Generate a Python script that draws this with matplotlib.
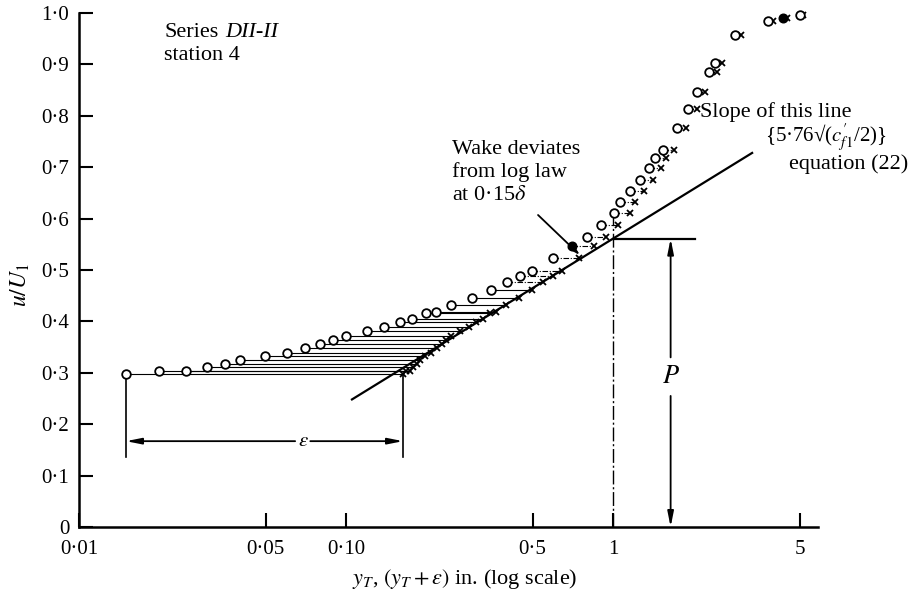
import numpy as np
import matplotlib
matplotlib.use("Agg")
import matplotlib.pyplot as plt
from matplotlib.ticker import NullLocator

plt.rcParams['font.family'] = ['Liberation Serif', 'DejaVu Serif']
plt.rcParams['mathtext.fontset'] = 'stix'

# ---- data ---------------------------------------------------------------
# measured distance from wall y_T (in.) and velocity ratio u/U1
y_T = [0.0150, 0.0200, 0.0252, 0.0302, 0.0353, 0.0401, 0.0499, 0.0601,
       0.0702, 0.0797, 0.0894, 0.0997, 0.1196, 0.1392, 0.1593, 0.1773,
       0.1989, 0.2174, 0.2474, 0.2965, 0.348, 0.400, 0.4485, 0.496,
       0.598, 0.700, 0.797, 0.899, 1.009, 1.062, 1.158, 1.262,
       1.368, 1.436, 1.543, 1.732, 1.915, 2.058, 2.295, 2.41,
       2.864, 3.816, 4.345, 5.016]
u_ratio = [0.298, 0.304, 0.304, 0.312, 0.317, 0.325, 0.333, 0.339,
           0.348, 0.357, 0.364, 0.372, 0.381, 0.389, 0.398, 0.405,
           0.416, 0.418, 0.431, 0.446, 0.462, 0.477, 0.488, 0.499,
           0.524, 0.547, 0.565, 0.588, 0.610, 0.632, 0.654, 0.675,
           0.698, 0.717, 0.733, 0.776, 0.814, 0.847, 0.886, 0.902,
           0.957, 0.985, 0.991, 0.996]
filled_idx = [25, 42]          # points drawn as solid dots
epsilon = 0.1485               # origin shift (in.)

# log-law line  u/U1 = a + b log10(y)
loglaw_a = 0.561
loglaw_b = 0.320
loglaw_range = [0.1053, 3.32]

x_ticks = [0.01, 0.05, 0.10, 0.5, 1, 5]
x_tick_labels = ['0·01', '0·05', '0·10', '0·5', '1', '5']
y_ticks = [0, 0.1, 0.2, 0.3, 0.4, 0.5, 0.6, 0.7, 0.8, 0.9, 1.0]
y_tick_labels = ['0', '0·1', '0·2', '0·3', '0·4', '0·5', '0·6', '0·7',
                 '0·8', '0·9', '1·0']

P_x = 1.644                    # position of the P dimension

# ---- figure -------------------------------------------------------------
W, H = 918, 594
fig = plt.figure(figsize=(W / 100, H / 100), dpi=100)
ax = fig.add_axes([79 / W, 1 - 527 / H, (818 - 79) / W, (527 - 13) / H])
ax.set_xscale('log')
ax.set_xlim(0.01, 5.86)
ax.set_ylim(0, 1.0)

for s in ('top', 'right'):
    ax.spines[s].set_visible(False)
for s in ('left', 'bottom'):
    ax.spines[s].set_linewidth(1.8)

ax.set_xticks(x_ticks)
ax.set_xticklabels(x_tick_labels)
ax.xaxis.set_minor_locator(NullLocator())
ax.set_yticks(y_ticks)
ax.set_yticklabels(y_tick_labels)
ax.tick_params(direction='in', length=10, width=1.5, labelsize=15)
ax.tick_params(axis='y', pad=7)
ax.tick_params(axis='x', pad=9)

y_T = np.array(y_T)
u_ratio = np.array(u_ratio)
shifted = y_T + epsilon

# horizontal lines joining y_T to y_T + epsilon
for xa, xb, uu in zip(y_T, shifted, u_ratio):
    ls = '-' if uu < 0.47 else (0, (5, 1.5, 1, 1.5))
    ax.plot([xa, xb], [uu, uu], color='black', lw=0.8, ls=ls, zorder=2)

# log-law line
xl = np.array(loglaw_range)
ax.plot(xl, loglaw_a + loglaw_b * np.log10(xl), color='black', lw=1.6, zorder=3)

# crosses at y_T + epsilon
ax.plot(shifted, u_ratio, 'x', color='black', ms=5, mew=1.3, zorder=4,
        clip_on=False)
# open circles at y_T
open_mask = np.ones(len(y_T), bool)
open_mask[filled_idx] = False
ax.plot(y_T[open_mask], u_ratio[open_mask], 'o', mfc='white', mec='black',
        ms=6.2, mew=1.3, zorder=5, clip_on=False)
ax.plot(y_T[filled_idx], u_ratio[filled_idx], 'o', color='black', ms=6.2,
        zorder=5, clip_on=False)

# vertical chain line at y = 1 in. and the reference level
u_at_1 = loglaw_a + loglaw_b * np.log10(1.0)
ax.plot([1, 1], [0, u_ratio[28]], color='black', lw=1.0,
        ls=(0, (10, 2, 1.5, 2)), zorder=2)
ax.plot([1, 2.03], [u_at_1, u_at_1], color='black', lw=1.6, zorder=3)

arrow_kw = dict(arrowstyle='-|>,head_length=0.9,head_width=0.18',
                color='black', lw=1.3, shrinkA=0, shrinkB=0)

# P dimension
ax.text(P_x, 0.292, '$P$', fontsize=19, ha='center', va='center')
ax.annotate('', xy=(P_x, u_at_1), xytext=(P_x, 0.33), arrowprops=arrow_kw)
ax.annotate('', xy=(P_x, 0.0), xytext=(P_x, 0.255), arrowprops=arrow_kw)

# epsilon dimension
eps_level = 0.167
ax.plot([y_T[0], y_T[0]], [0.136, u_ratio[0]], color='black', lw=1.2)
ax.plot([shifted[0], shifted[0]], [0.136, u_ratio[0]], color='black', lw=1.2)
ax.text(0.069, eps_level, r'$\epsilon$', fontsize=15, ha='center',
        va='center')
ax.annotate('', xy=(y_T[0], eps_level), xytext=(0.0645, eps_level),
            arrowprops=arrow_kw)
ax.annotate('', xy=(shifted[0], eps_level), xytext=(0.0735, eps_level),
            arrowprops=arrow_kw)

# wake annotation arrow
ax.annotate('', xy=(0.752, 0.529), xytext=(0.524, 0.607),
            arrowprops=dict(arrowstyle='-|>,head_length=0.7,head_width=0.2',
                            color='black', lw=1.3, shrinkA=0, shrinkB=0))


def fpos(px, py):
    return px / W, 1 - py / H


fs = 16
fig.text(*fpos(164, 37), 'Series', fontsize=fs, va='baseline')
fig.text(*fpos(225, 37), 'DII-II', fontsize=fs, style='italic',
         va='baseline')
fig.text(*fpos(164, 60), 'station 4', fontsize=fs, va='baseline')

fig.text(*fpos(452, 154), 'Wake deviates', fontsize=fs, va='baseline')
fig.text(*fpos(452, 177), 'from log law', fontsize=fs, va='baseline')
fig.text(*fpos(452, 200), r'at 0·15$\delta$', fontsize=fs, va='baseline')

fig.text(*fpos(700, 117), 'Slope of this line', fontsize=fs, va='baseline')
fig.text(*fpos(765, 142), "{5·76\u221a($c^{\\prime}_{f1}$/2)}",
         fontsize=15, va='baseline')
fig.text(*fpos(789, 169), 'equation (22)', fontsize=fs, va='baseline')

fig.text(*fpos(20, 285), r'$u/U_1$', fontsize=17, rotation=90,
         ha='center', va='center')
fig.text(*fpos(465, 579), r'$y_T$, $(y_T+\epsilon)$ in. (log scale)',
         fontsize=fs, ha='center', va='center')

fig.savefig('out.png', dpi=100)
